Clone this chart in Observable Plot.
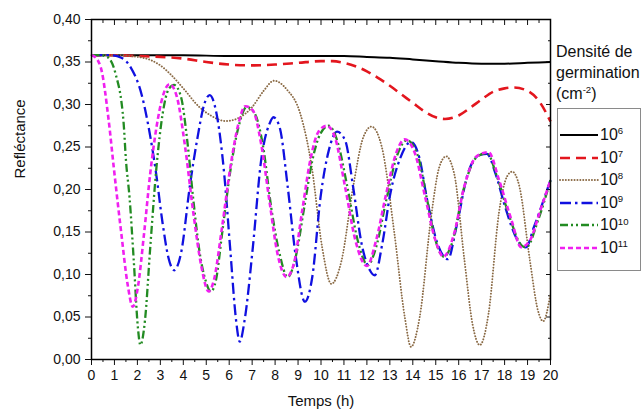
<!DOCTYPE html>
<html>
<head>
<meta charset="utf-8">
<script src="https://cdn.jsdelivr.net/npm/d3@7"></script>
<script src="https://cdn.jsdelivr.net/npm/@observablehq/plot@0.6"></script>
<style>
  html, body { margin: 0; padding: 0; background: #fff; }
  #wrap { position: relative; width: 642px; height: 416px; font-family: "Liberation Sans", Arial, sans-serif; }
  #legend-title { position: absolute; left: 556px; top: 41px; font-size: 16px; line-height: 21px; color: #111; white-space: nowrap; }
  #legend-title sup, #legend .lab sup { font-size: 0.6em; vertical-align: 0; position: relative; top: -0.6em; }
  #legend { position: absolute; left: 557px; top: 108px; width: 84px; height: 163px; border: 1px solid #8a8a8a; box-sizing: border-box; }
  #legend .row { position: absolute; left: 0; height: 22px; display: flex; align-items: center; }
  #legend .lab { font-size: 16px; color: #111; margin-left: 1px; }
</style>
</head>
<body>
<div id="wrap"></div>
<script>
// ---- data ----
const seriesNames = ["6", "7", "8", "9", "10", "11"];

const t6 = [0, 2, 4, 6, 8, 10, 11, 12, 13, 14, 15, 16, 17, 18, 19, 20];
const r6 = [0.358, 0.358, 0.358, 0.357, 0.357, 0.357, 0.357, 0.356, 0.355, 0.353, 0.351, 0.349, 0.348, 0.348, 0.349, 0.350];

const t7 = [0, 1, 2, 3, 4, 5, 6, 7, 8, 9, 10, 10.5, 11, 11.5, 12, 12.5, 13, 13.5, 14, 14.5, 15, 15.4, 16, 16.5, 17, 17.5, 18, 18.4, 19, 19.5, 20];
const r7 = [0.358, 0.358, 0.357, 0.356, 0.354, 0.350, 0.347, 0.346, 0.347, 0.349, 0.351, 0.351, 0.349, 0.345, 0.339, 0.331, 0.322, 0.312, 0.302, 0.292, 0.285, 0.283, 0.287, 0.296, 0.306, 0.315, 0.319, 0.320, 0.316, 0.304, 0.280];

const t8 = [0, 1, 2, 2.6, 3, 3.5, 4, 4.7, 5.2, 5.85, 6.4, 7, 7.5, 7.95, 8.5, 9.1, 9.6, 10.05, 10.45, 10.9, 11.4, 11.85, 12.2, 12.65, 13.2, 13.65, 13.92, 14.3, 14.8, 15.15, 15.45, 15.8, 16.25, 16.6, 16.92, 17.3, 17.75, 18.1, 18.33, 18.65, 19.1, 19.45, 19.68, 20];
const r8 = [0.358, 0.358, 0.356, 0.352, 0.346, 0.334, 0.319, 0.297, 0.287, 0.2805, 0.284, 0.297, 0.316, 0.328, 0.318, 0.289, 0.226, 0.132, 0.089, 0.117, 0.203, 0.262, 0.274, 0.25, 0.148, 0.05, 0.015, 0.05, 0.168, 0.226, 0.239, 0.219, 0.117, 0.042, 0.017, 0.054, 0.172, 0.215, 0.221, 0.203, 0.117, 0.058, 0.045, 0.078];

const t9 = [0, 0.8, 1.3, 1.7, 2.2, 2.57, 2.8, 3.1, 3.35, 3.6, 3.9, 4.3, 4.6, 4.92, 5.15, 5.42, 5.78, 6.05, 6.3, 6.46, 6.67, 7.03, 7.39, 7.75, 7.93, 8.2, 8.55, 8.9, 9.3, 9.62, 9.98, 10.34, 10.7, 11.05, 11.4, 11.77, 12.13, 12.34, 12.67, 13.02, 13.47, 13.92, 14.28, 14.63, 15.08, 15.53, 15.9, 16.4, 16.87, 17.23, 17.6, 18.03, 18.57, 18.93, 19.28, 20];
const r9 = [0.358, 0.358, 0.355, 0.344, 0.31, 0.261, 0.222, 0.16, 0.12, 0.105, 0.125, 0.207, 0.258, 0.301, 0.311, 0.293, 0.219, 0.128, 0.046, 0.021, 0.046, 0.132, 0.234, 0.277, 0.285, 0.273, 0.203, 0.121, 0.068, 0.097, 0.191, 0.246, 0.268, 0.258, 0.203, 0.136, 0.105, 0.099, 0.136, 0.195, 0.238, 0.256, 0.238, 0.187, 0.136, 0.118, 0.156, 0.219, 0.24, 0.242, 0.219, 0.179, 0.140, 0.132, 0.156, 0.211];

const t10 = [0, 0.35, 0.68, 1.05, 1.4, 1.5, 1.66, 1.84, 2.02, 2.13, 2.33, 2.56, 2.83, 3.1, 3.36, 3.6, 3.9, 4.17, 4.44, 4.7, 4.97, 5.2, 5.42, 5.69, 6.05, 6.4, 6.76, 7.12, 7.48, 7.83, 8.19, 8.55, 8.9, 9.27, 9.62, 9.98, 10.34, 10.7, 11.15, 11.6, 12.04, 12.4, 12.84, 13.29, 13.74, 14.19, 14.63, 14.99, 15.35, 15.7, 16.24, 16.78, 17.23, 17.67, 18.21, 18.75, 18.95, 19.46, 20];
const r10 = [0.358, 0.358, 0.356, 0.336, 0.278, 0.235, 0.19, 0.117, 0.038, 0.017, 0.046, 0.132, 0.226, 0.289, 0.318, 0.323, 0.309, 0.258, 0.187, 0.128, 0.093, 0.080, 0.093, 0.148, 0.222, 0.273, 0.297, 0.289, 0.25, 0.179, 0.125, 0.097, 0.121, 0.179, 0.234, 0.266, 0.275, 0.258, 0.203, 0.14, 0.111, 0.132, 0.187, 0.238, 0.258, 0.242, 0.187, 0.14, 0.121, 0.136, 0.203, 0.238, 0.243, 0.215, 0.168, 0.134, 0.132, 0.164, 0.211];

const t11 = [0, 0.1, 0.4, 0.75, 0.97, 1.3, 1.57, 1.8, 2.02, 2.29, 2.56, 2.83, 3.1, 3.4, 3.72, 4.08, 4.44, 4.79, 5.1, 5.33, 5.69, 6.05, 6.4, 6.7, 7.03, 7.39, 7.75, 8.1, 8.5, 8.82, 9.18, 9.53, 9.89, 10.25, 10.6, 11.05, 11.5, 12.0, 12.4, 12.84, 13.29, 13.65, 14.1, 14.54, 14.99, 15.33, 15.8, 16.24, 16.78, 17.3, 17.76, 18.3, 18.72, 19.1, 19.55, 20];
const r11 = [0.358, 0.357, 0.344, 0.281, 0.226, 0.148, 0.089, 0.062, 0.085, 0.148, 0.219, 0.273, 0.309, 0.324, 0.309, 0.25, 0.172, 0.109, 0.080, 0.093, 0.156, 0.226, 0.277, 0.298, 0.293, 0.254, 0.187, 0.125, 0.097, 0.113, 0.175, 0.234, 0.268, 0.275, 0.262, 0.203, 0.14, 0.110, 0.140, 0.195, 0.244, 0.259, 0.242, 0.191, 0.14, 0.121, 0.148, 0.203, 0.239, 0.244, 0.211, 0.164, 0.132, 0.140, 0.175, 0.211];

const xTicks = d3.range(0, 21, 1);
const xMinorTicks = d3.range(0.5, 20, 1);
const yTicks = [0, 0.05, 0.10, 0.15, 0.20, 0.25, 0.30, 0.35, 0.40];
const yMinorTicks = [0.025, 0.075, 0.125, 0.175, 0.225, 0.275, 0.325, 0.375];

// ---- styles (kept apart from data) ----
const colors = ["#000000", "#e3161e", "#8a6a45", "#1010e0", "#228b22", "#f020f0"];
const dashes = [null, "10,6", "0.1,2.8", "11,4,2.5,4", "8,3,2,3,2,3", "5,3"];
const widths = [2, 2.6, 1.9, 2.3, 2.3, 2.6];
const caps = ["butt", "butt", "round", "butt", "butt", "butt"];

const tArrays = [t6, t7, t8, t9, t10, t11];
const rArrays = [r6, r7, r8, r9, r10, r11];
const series = seriesNames.map((name, i) => tArrays[i].map((t, j) => ({t, r: rArrays[i][j], name})));

const fmt = d => d.toFixed(2).replace(".", ",");

const chart = Plot.plot({
  width: 642,
  height: 416,
  marginLeft: 91,
  marginRight: 92,
  marginTop: 19,
  marginBottom: 57,
  style: {fontFamily: "'Liberation Sans', Arial, sans-serif", fontSize: "14px", background: "transparent", color: "#111"},
  x: {domain: [0, 20]},
  y: {domain: [0, 0.4]},
  marks: [
    Plot.axisX({ticks: xTicks, tickSize: 6, tickPadding: 5, tickFormat: d => String(d), label: null, fontSize: 14}),
    Plot.axisX({ticks: xMinorTicks, tickSize: 3, tickFormat: () => "", label: null}),
    Plot.axisX({anchor: "top", ticks: xTicks, tickSize: 5, dy: 5, tickFormat: () => "", label: null}),
    Plot.axisX({anchor: "top", ticks: xMinorTicks, tickSize: 3, dy: 3, tickFormat: () => "", label: null}),
    Plot.axisY({ticks: yTicks, tickSize: 6, tickPadding: 5, tickFormat: fmt, label: null, fontSize: 14}),
    Plot.axisY({ticks: yMinorTicks, tickSize: 3, tickFormat: () => "", label: null}),
    Plot.axisY({anchor: "right", ticks: yTicks, tickSize: 5, dx: -5, tickFormat: () => "", label: null}),
    Plot.axisY({anchor: "right", ticks: yMinorTicks, tickSize: 3, dx: -3, tickFormat: () => "", label: null}),
    ...series.map((data, i) => Plot.line(data, {
      x: "t", y: "r",
      stroke: colors[i],
      strokeWidth: widths[i],
      strokeDasharray: dashes[i],
      strokeLinecap: caps[i],
      curve: "monotone-x"
    })),
    Plot.frame({stroke: "#000", strokeWidth: 1.5}),
    Plot.text(["Refléctance"], {frameAnchor: "left", rotate: -90, dx: -71, dy: -11, fontSize: 15}),
    Plot.text(["Temps (h)"], {frameAnchor: "bottom", dy: 46, fontSize: 15})
  ]
});

const wrap = document.getElementById("wrap");
wrap.appendChild(chart);

// ---- legend (right of plot) ----
const title = document.createElement("div");
title.id = "legend-title";
title.innerHTML = "Densité de<br>germination<br>(cm<sup>-2</sup>)";
wrap.appendChild(title);

const legend = document.createElement("div");
legend.id = "legend";
seriesNames.forEach((name, i) => {
  const row = document.createElement("div");
  row.className = "row";
  row.style.top = (15 + i * 22.6) + "px";
  const svgNS = "http://www.w3.org/2000/svg";
  const svg = document.createElementNS(svgNS, "svg");
  svg.setAttribute("width", "40");
  svg.setAttribute("height", "10");
  svg.style.marginLeft = "1px";
  const ln = document.createElementNS(svgNS, "line");
  ln.setAttribute("x1", "1"); ln.setAttribute("x2", "39");
  ln.setAttribute("y1", "5"); ln.setAttribute("y2", "5");
  ln.setAttribute("stroke", colors[i]);
  ln.setAttribute("stroke-width", widths[i]);
  ln.setAttribute("stroke-linecap", caps[i]);
  if (dashes[i]) ln.setAttribute("stroke-dasharray", dashes[i]);
  svg.appendChild(ln);
  row.appendChild(svg);
  const lab = document.createElement("span");
  lab.className = "lab";
  lab.innerHTML = "10<sup>" + name + "</sup>";
  row.appendChild(lab);
  legend.appendChild(row);
});
wrap.appendChild(legend);
</script>
</body>
</html>
